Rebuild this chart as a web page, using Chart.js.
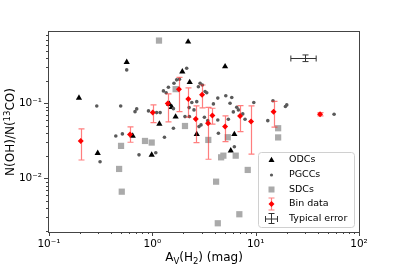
<!DOCTYPE html>
<html>
<head>
<meta charset="utf-8">
<script src="https://cdn.jsdelivr.net/npm/chart.js@4.4.0/dist/chart.umd.min.js"></script>
<style>
  html, body { margin: 0; padding: 0; background: #fff; }
  #wrap { width: 399px; height: 266px; }
</style>
</head>
<body>
<div id="wrap"><canvas id="chart" width="399" height="266"></canvas></div>
<script>
// ODCs (black triangles)
const odcX = [0.195, 0.565, 2.22, 1.95, 2.30, 1.54, 1.68, 1.17, 5.06, 6.22, 5.74, 2.69, 0.646, 0.986, 0.296, 1.46];
const odcY = [0.118, 0.352, 0.66, 0.264, 0.19, 0.0885, 0.066, 0.053, 0.308, 0.0386, 0.0233, 0.0386, 0.0366, 0.0205, 0.0216, 0.097];

// PGCCs (grey dots)
const pgccX = [0.29, 0.494, 0.565, 0.513, 0.443, 0.312, 0.743, 1.08, 1.31, 2.15, 1.83, 1.62, 1.28, 1.36, 0.706,
  0.68, 1.10, 1.19, 1.60, 2.41, 2.69, 2.53, 1.60, 2.90, 3.05, 2.79, 3.24, 3.36, 4.30, 5.14, 5.87, 3.90, 5.65,
  6.08, 6.56, 6.80, 7.50, 7.89, 9.59, 13.1, 14.7, 20.0, 19.4, 57.4, 3.19, 2.96, 2.83, 4.30, 5.44, 3.44, 4.36,
  6.22, 0.918, 1.43, 1.72, 2.27, 2.28, 2.07];
const pgccY = [0.092, 0.092, 0.278, 0.039, 0.0366, 0.0166, 0.0205, 0.0219, 0.0352, 0.293, 0.209, 0.185, 0.146, 0.138, 0.084,
  0.0772, 0.075, 0.075, 0.0847, 0.102, 0.105, 0.0814, 0.0464, 0.185, 0.175, 0.166, 0.143, 0.138, 0.117, 0.126, 0.119, 0.098, 0.100,
  0.0766, 0.0885, 0.0814, 0.072, 0.0612, 0.102, 0.0586, 0.108, 0.095, 0.0906, 0.0713, 0.065, 0.0514, 0.0488, 0.0598, 0.0612, 0.0586, 0.0398,
  0.0263, 0.079, 0.163, 0.205, 0.0874, 0.0663, 0.0663];

// SDCs (light grey squares)
const sdcX = [1.16, 1.68, 2.07, 16.5, 16.5, 0.498, 0.477, 0.506, 0.849, 0.986, 3.48, 5.37, 4.63, 4.87, 6.41, 8.38, 4.14, 6.95, 4.30];
const sdcY = [0.684, 0.154, 0.0497, 0.0464, 0.0350, 0.0270, 0.0133, 0.00662, 0.0314, 0.0299, 0.0324, 0.0352, 0.019, 0.020, 0.020, 0.0129, 0.0090, 0.00331, 0.00251];

// Bin data (red diamonds with error bars)
const binX  = [0.203, 0.608, 1.01, 1.41, 1.81, 2.23, 2.63, 3.03, 3.46, 3.81, 5.06, 7.06, 9.02, 14.9, 42];
const binY  = [0.0314, 0.0384, 0.075, 0.0989, 0.154, 0.114, 0.0618, 0.130, 0.0541, 0.0684, 0.0488, 0.0677, 0.0569, 0.0772, 0.0713];
const binHi = [0.0454, 0.0483, 0.0949, 0.133, 0.221, 0.16, 0.092, 0.175, 0.0879, 0.0857, 0.0678, 0.093, 0.092, 0.106, 0.075];
const binLo = [0.0175, 0.0302, 0.0551, 0.0564, 0.0772, 0.065, 0.0299, 0.0866, 0.0179, 0.0528, 0.0307, 0.0418, 0.0209, 0.0479, 0.068];

// Typical error cross
const errX = [30.1, 21.9, 38.5];   // centre, low, high
const errY = [0.398, 0.359, 0.44];

// Axis limits and labels
const xLimits = [0.1, 100];
const yLimits = [0.00192, 0.89];
const legendLabels = ['ODCs', 'PGCCs', 'SDCs', 'Bin data', 'Typical error'];

const FONT = "'DejaVu Sans', sans-serif";
const SUP = { '-': '\u207B', '0': '\u2070', '1': '\u00B9', '2': '\u00B2', '3': '\u00B3' };

function pts(xs, ys) {
    return xs.map((x, i) => ({ x: x, y: ys[i] }));
}

// all 1..9 x 10^n ticks inside the range
function logTicks(min, max) {
    const ticks = [];
    for (let e = -4; e <= 3; e++) {
        for (let m = 1; m <= 9; m++) {
            const v = m * Math.pow(10, e);
            if (v >= min * 0.9999 && v <= max * 1.0001) ticks.push({ value: v, major: m === 1 });
        }
    }
    return ticks;
}

function powLabel(value) {
    const e = Math.log10(value);
    if (Math.abs(e - Math.round(e)) > 1e-6) return '';
    return '10' + String(Math.round(e)).split('').map(c => SUP[c]).join('');
}

// draw a row of text pieces (for sub/superscripts), centred on x
function drawRuns(ctx, runs, x, y) {
    let total = 0;
    runs.forEach(r => {
        ctx.font = r.size + 'px ' + FONT;
        r.w = ctx.measureText(r.t).width;
        total += r.w;
    });
    let cx = x - total / 2;
    runs.forEach(r => {
        ctx.font = r.size + 'px ' + FONT;
        ctx.fillText(r.t, cx, y + (r.dy || 0));
        cx += r.w;
    });
}

function errorBar(ctx, x, y1, y2, cap) {
    ctx.beginPath();
    ctx.moveTo(x, y1); ctx.lineTo(x, y2);
    ctx.moveTo(x - cap, y1); ctx.lineTo(x + cap, y1);
    ctx.moveTo(x - cap, y2); ctx.lineTo(x + cap, y2);
    ctx.stroke();
}

function hErrorBar(ctx, y, x1, x2, cap) {
    ctx.beginPath();
    ctx.moveTo(x1, y); ctx.lineTo(x2, y);
    ctx.moveTo(x1, y - cap); ctx.lineTo(x1, y + cap);
    ctx.moveTo(x2, y - cap); ctx.lineTo(x2, y + cap);
    ctx.stroke();
}

// Error bars under the bin markers
const errorBarPlugin = {
    id: 'errorBars',
    beforeDatasetDraw(chart, args) {
        if (chart.data.datasets[args.index].label !== 'Bin data') return;
        const ctx = chart.ctx, xs = chart.scales.x, ys = chart.scales.y;
        ctx.save();
        ctx.strokeStyle = 'rgba(255, 40, 40, 0.6)';
        ctx.lineWidth = 1.2;
        binX.forEach((bx, i) => {
            const px = Math.round(xs.getPixelForValue(bx)) + 0.5;
            errorBar(ctx, px, ys.getPixelForValue(binHi[i]), ys.getPixelForValue(binLo[i]), 3);
        });
        ctx.restore();
    }
};

// Frame, tick marks, typical error, axis titles and legend
const decorPlugin = {
    id: 'decor',
    afterDraw(chart) {
        const ctx = chart.ctx, a = chart.chartArea;
        const xs = chart.scales.x, ys = chart.scales.y;
        ctx.save();

        // typical error cross
        ctx.strokeStyle = '#333';
        ctx.lineWidth = 1;
        const ex = xs.getPixelForValue(errX[0]), ey = ys.getPixelForValue(errY[0]);
        hErrorBar(ctx, Math.round(ey) + 0.5, xs.getPixelForValue(errX[1]), xs.getPixelForValue(errX[2]), 3);
        errorBar(ctx, Math.round(ex) + 0.5, ys.getPixelForValue(errY[2]), ys.getPixelForValue(errY[1]), 3);

        // frame
        ctx.strokeStyle = '#444';
        ctx.lineWidth = 1;
        ctx.strokeRect(a.left - 0.5, a.top - 0.5, a.right - a.left + 1, a.bottom - a.top + 1);

        // tick marks, pointing out
        ctx.beginPath();
        xs.ticks.forEach(t => {
            const p = Math.round(xs.getPixelForValue(t.value)) + 0.5;
            ctx.moveTo(p, a.bottom);
            ctx.lineTo(p, a.bottom + (t.major ? 4 : 2));
        });
        ys.ticks.forEach(t => {
            const p = Math.round(ys.getPixelForValue(t.value)) + 0.5;
            ctx.moveTo(a.left - 1, p);
            ctx.lineTo(a.left - 1 - (t.major ? 4 : 2), p);
        });
        ctx.stroke();

        // axis titles
        ctx.fillStyle = '#000';
        ctx.textBaseline = 'alphabetic';
        ctx.textAlign = 'left';
        drawRuns(ctx, [
            { t: 'A', size: 12 }, { t: 'V', size: 8.5, dy: 2.5 },
            { t: '(H', size: 12 }, { t: '2', size: 8.5, dy: 2.5 },
            { t: ') (mag)', size: 12 }
        ], (a.left + a.right) / 2, 261);

        ctx.save();
        ctx.translate(14, (a.top + a.bottom) / 2);
        ctx.rotate(-Math.PI / 2);
        drawRuns(ctx, [
            { t: 'N(OH)/N(', size: 12 }, { t: '13', size: 8.5, dy: -4.5 },
            { t: 'CO)', size: 12 }
        ], 0, 0);
        ctx.restore();

        // legend
        const L = 258, T = 152, R = 354, B = 227;
        ctx.beginPath();
        ctx.roundRect(L + 0.5, T + 0.5, R - L, B - T, 3);
        ctx.fillStyle = 'rgba(255,255,255,0.8)';
        ctx.fill();
        ctx.strokeStyle = '#d0d0d0';
        ctx.stroke();

        const mx = 271.5, rowY = [160, 175, 189.5, 204, 218.5];
        // ODCs
        ctx.fillStyle = '#000';
        ctx.beginPath();
        ctx.moveTo(mx, rowY[0] - 3.2);
        ctx.lineTo(mx + 3, rowY[0] + 2);
        ctx.lineTo(mx - 3, rowY[0] + 2);
        ctx.closePath();
        ctx.fill();
        // PGCCs
        ctx.fillStyle = '#5a5a5a';
        ctx.beginPath();
        ctx.arc(mx, rowY[1], 1.6, 0, Math.PI * 2);
        ctx.fill();
        // SDCs
        ctx.fillStyle = '#aaaaaa';
        ctx.fillRect(mx - 3, rowY[2] - 3, 6, 6);
        // Bin data
        ctx.strokeStyle = 'rgba(255, 40, 40, 0.6)';
        ctx.lineWidth = 1.2;
        errorBar(ctx, mx, rowY[3] - 6, rowY[3] + 6, 3);
        ctx.fillStyle = '#ff0000';
        ctx.beginPath();
        ctx.moveTo(mx, rowY[3] - 3); ctx.lineTo(mx + 3, rowY[3]);
        ctx.lineTo(mx, rowY[3] + 3); ctx.lineTo(mx - 3, rowY[3]);
        ctx.closePath();
        ctx.fill();
        // Typical error
        ctx.strokeStyle = '#333';
        ctx.lineWidth = 1;
        hErrorBar(ctx, rowY[4] + 0.5, mx - 6, mx + 6, 3);
        errorBar(ctx, mx, rowY[4] - 5, rowY[4] + 5, 3);

        ctx.fillStyle = '#000';
        ctx.font = '9.5px ' + FONT;
        ctx.textBaseline = 'middle';
        legendLabels.forEach((lab, i) => ctx.fillText(lab, 289, rowY[i]));

        ctx.restore();
    }
};

const ctx = document.getElementById('chart').getContext('2d');
window.scatterChart = new Chart(ctx, {
    type: 'scatter',
    data: {
        datasets: [
            {
                label: 'Bin data',
                data: pts(binX, binY),
                pointStyle: 'rectRot',
                pointRadius: 3,
                backgroundColor: '#ff0000',
                borderWidth: 0,
                order: 0
            },
            {
                label: 'SDCs',
                data: pts(sdcX, sdcY),
                pointStyle: 'rect',
                pointRadius: 4.4,
                backgroundColor: '#aaaaaa',
                borderWidth: 0,
                order: 1
            },
            {
                label: 'PGCCs',
                data: pts(pgccX, pgccY),
                pointStyle: 'circle',
                pointRadius: 1.8,
                backgroundColor: '#5a5a5a',
                borderWidth: 0,
                order: 2
            },
            {
                label: 'ODCs',
                data: pts(odcX, odcY),
                pointStyle: 'triangle',
                pointRadius: 3.6,
                backgroundColor: '#000000',
                borderWidth: 0,
                order: 3
            }
        ]
    },
    options: {
        responsive: false,
        animation: false,
        devicePixelRatio: 1,
        layout: { padding: { left: 0, right: 40, top: 32, bottom: 0 } },
        plugins: {
            legend: { display: false },
            tooltip: { enabled: false }
        },
        scales: {
            x: {
                type: 'logarithmic',
                min: xLimits[0],
                max: xLimits[1],
                afterBuildTicks: scale => { scale.ticks = logTicks(xLimits[0], xLimits[1]); },
                afterFit: scale => { scale.height = 34; },
                grid: { display: false, drawTicks: false, tickLength: 0 },
                border: { display: false },
                ticks: {
                    autoSkip: false,
                    maxRotation: 0,
                    padding: 6,
                    color: '#000',
                    font: { family: FONT, size: 10.5 },
                    callback: value => powLabel(value)
                }
            },
            y: {
                type: 'logarithmic',
                min: yLimits[0],
                max: yLimits[1],
                afterBuildTicks: scale => { scale.ticks = logTicks(yLimits[0], yLimits[1]); },
                afterFit: scale => { scale.width = 49; },
                grid: { display: false, drawTicks: false, tickLength: 0 },
                border: { display: false },
                ticks: {
                    autoSkip: false,
                    padding: 7,
                    color: '#000',
                    font: { family: FONT, size: 10.5 },
                    callback: value => powLabel(value)
                }
            }
        }
    },
    plugins: [errorBarPlugin, decorPlugin]
});
</script>
</body>
</html>
